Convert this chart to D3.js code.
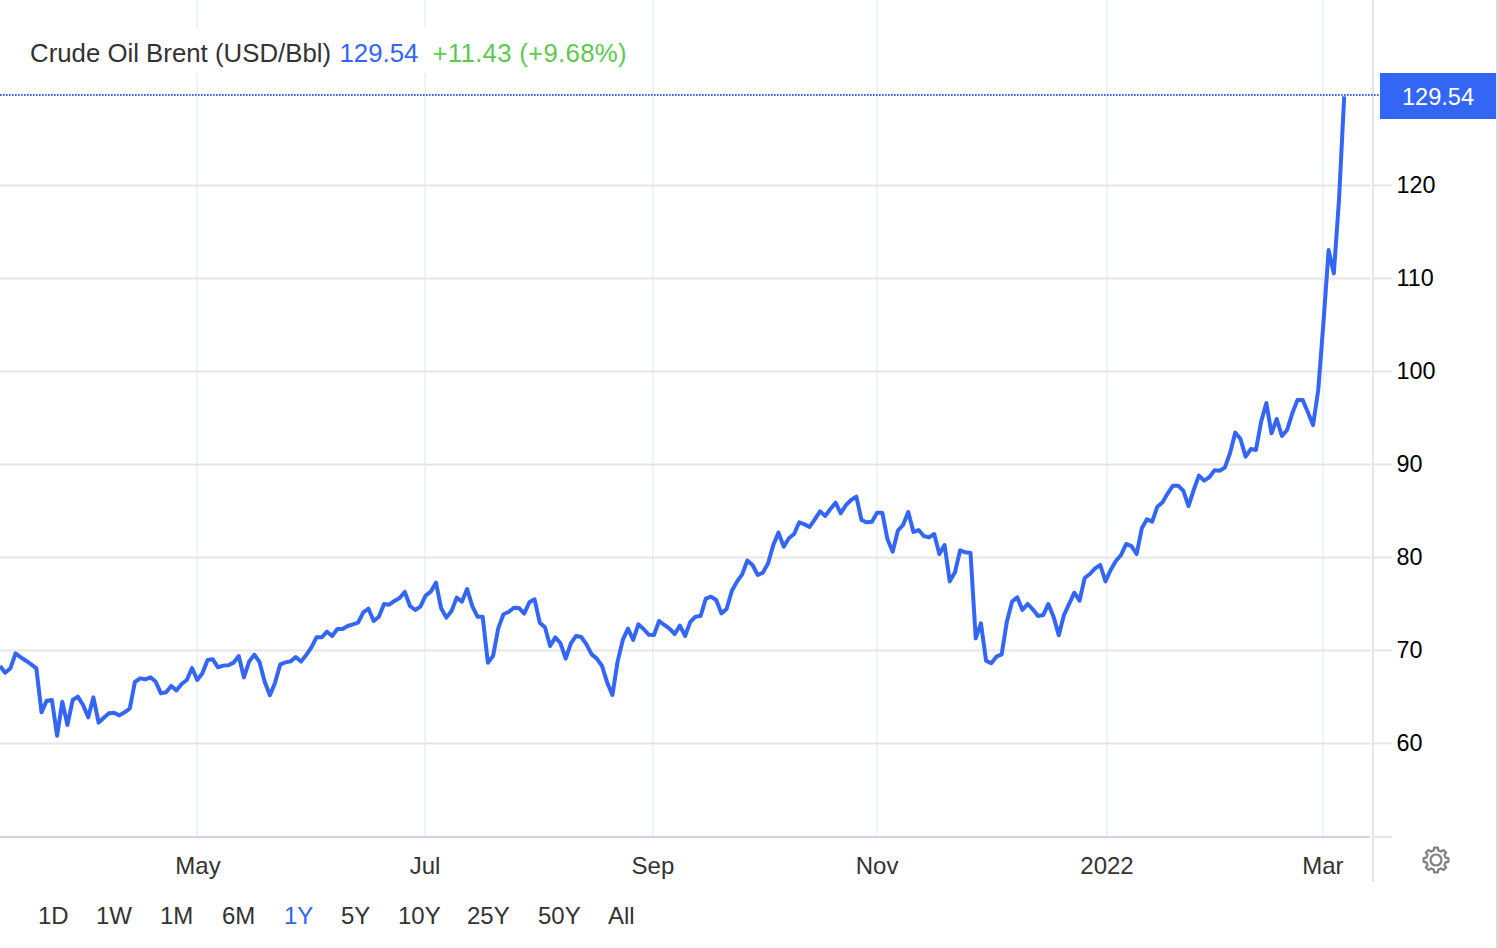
<!DOCTYPE html>
<html><head><meta charset="utf-8">
<style>html,body{margin:0;padding:0;background:#fff;overflow:hidden}text{font-family:"Liberation Sans",Arial,sans-serif}</style>
<script src="https://cdn.jsdelivr.net/npm/d3@7"></script></head>
<body><svg id="c" width="1498" height="948"></svg>
<script>
// Daily close, USD/Bbl (oldest first)
const prices = [
68.28,67.56,68.03,69.64,69.21,68.85,68.46,68.03,63.30,64.55,64.62,60.79,64.44,61.94,64.62,64.98,64.09,62.76,64.91,62.19,
62.72,63.19,63.26,62.97,63.30,63.69,66.56,66.95,66.85,67.06,66.59,65.34,65.45,66.13,65.66,66.34,66.77,68.06,66.77,67.49,
68.92,69.00,68.14,68.32,68.35,68.64,69.35,67.06,68.75,69.50,68.71,66.59,65.13,66.49,68.46,68.67,68.78,69.25,68.75,69.46,
70.29,71.36,71.36,71.97,71.51,72.26,72.26,72.58,72.76,72.94,74.05,74.44,73.12,73.58,74.95,74.87,75.27,75.59,76.24,74.73,
74.30,74.66,75.84,76.27,77.24,74.48,73.48,74.19,75.63,75.20,76.56,74.73,73.58,73.58,68.64,69.35,72.33,73.84,74.09,74.55,
74.52,73.91,75.13,75.45,72.94,72.44,70.43,71.36,70.72,69.07,70.72,71.51,71.40,70.61,69.53,69.07,68.28,66.49,65.16,68.75,
71.08,72.29,71.08,72.76,72.26,71.65,71.61,73.12,72.69,72.29,71.72,72.62,71.51,73.01,73.58,73.66,75.52,75.73,75.38,73.94,
74.41,76.34,77.35,78.14,79.61,79.14,78.06,78.32,79.32,81.29,82.62,81.11,82.01,82.47,83.73,83.51,83.23,84.05,84.91,84.41,
85.16,85.84,84.70,85.59,86.13,86.49,83.98,83.73,83.80,84.77,84.77,81.90,80.57,82.83,83.44,84.84,82.69,82.90,82.26,82.11,
82.47,80.32,81.29,77.38,78.35,80.72,80.50,80.43,71.25,72.87,68.85,68.57,69.28,69.53,73.05,75.20,75.66,74.30,74.95,74.37,
73.66,73.76,74.95,73.58,71.58,73.76,74.95,76.16,75.30,77.74,78.17,78.78,79.14,77.38,78.60,79.57,80.22,81.40,81.18,80.32,
83.08,84.05,83.80,85.41,85.88,86.85,87.67,87.67,87.13,85.48,87.20,88.75,88.21,88.57,89.32,89.28,89.61,91.15,93.37,92.72,
90.79,91.61,91.51,94.55,96.56,93.30,94.84,93.01,93.66,95.45,96.88,96.88,95.56,94.19,97.96,105.2,113.0,110.5,118.4,129.54
];
const yTicks = [60,70,80,90,100,110,120];
const xTickLabels = ["May","Jul","Sep","Nov","2022","Mar"];
const xTickIndex = [37.96,81.9,125.8,169,213.3,254.9];
const ranges = ["1D","1W","1M","6M","1Y","5Y","10Y","25Y","50Y","All"];
const rangeX = [38,96,160,222,284,341,398,467,538,608];
const activeRange = "1Y";
const titleName = "Crude Oil Brent (USD/Bbl)";
const lastLabel = "129.54";
const changeLabel = "+11.43 (+9.68%)";

const BLUE="#3366f5", GRID="#e6e6e6", VGRID="#f0f3f6";
const svg=d3.select("#c");
const x=d3.scaleLinear().domain([0,prices.length-1]).range([0,1344.2]);
const y=d3.scaleLinear().domain([60,120]).range([743,185]);

// vertical grid
svg.append("g").selectAll("line").data(xTickIndex).join("line")
 .attr("x1",d=>x(d)).attr("x2",d=>x(d)).attr("y1",0).attr("y2",836)
 .attr("stroke",VGRID).attr("stroke-width",2);
// horizontal grid + axis ticks
svg.append("g").selectAll("line").data(yTicks).join("line")
 .attr("x1",0).attr("x2",1371).attr("y1",d=>y(d)+0.4).attr("y2",d=>y(d)+0.4)
 .attr("stroke",GRID).attr("stroke-width",2);
svg.append("g").selectAll("line").data(yTicks.concat([50])).join("line")
 .attr("x1",1374).attr("x2",1392).attr("y1",d=>d===50?837:y(d)+0.4).attr("y2",d=>d===50?837:y(d)+0.4)
 .attr("stroke",GRID).attr("stroke-width",2);
// right axis line & x axis line
svg.append("line").attr("x1",1373).attr("x2",1373).attr("y1",0).attr("y2",882).attr("stroke",GRID).attr("stroke-width",2);
svg.append("line").attr("x1",0).attr("x2",1370).attr("y1",837).attr("y2",837).attr("stroke","#ccd6eb").attr("stroke-width",2);
svg.append("rect").attr("x",1496).attr("y",0).attr("width",2).attr("height",948).attr("fill","#dcdcdc");
// title backing
svg.append("rect").attr("x",0).attr("y",28).attr("width",640).attr("height",45).attr("fill","#fff");

// last price dotted line
const lastY=y(prices[prices.length-1])-1.3;
svg.append("line").attr("x1",0).attr("x2",1380).attr("y1",lastY).attr("y2",lastY)
 .attr("stroke",BLUE).attr("stroke-width",2).attr("stroke-dasharray","1.6 1.4");

// series
svg.append("path").attr("d",d3.line().x((d,i)=>x(i)).y(d=>y(d))(prices))
 .attr("fill","none").attr("stroke",BLUE).attr("stroke-width",4).attr("stroke-linejoin","round");

// y labels
svg.append("g").selectAll("text").data(yTicks).join("text")
 .attr("x",1396.5).attr("y",d=>y(d)+8).attr("font-size",23.4).attr("fill","#000").text(d=>d);
// last value box
svg.append("rect").attr("x",1380).attr("y",73).attr("width",116).attr("height",46).attr("fill",BLUE);
svg.append("text").attr("x",1438).attr("y",105).attr("text-anchor","middle").attr("font-size",23.6).attr("fill","#fff").text(lastLabel);
// x labels
svg.append("g").selectAll("text").data(xTickLabels).join("text")
 .attr("x",(d,i)=>x(xTickIndex[i])+(d==="May"?1:0)).attr("y",874).attr("text-anchor","middle").attr("font-size",24).attr("fill","#333").text(d=>d);
// range buttons
svg.append("g").selectAll("text").data(ranges).join("text")
 .attr("x",(d,i)=>rangeX[i]).attr("y",924).attr("font-size",24).attr("fill",d=>d===activeRange?BLUE:"#333").text(d=>d);
// title
const t=svg.append("text").attr("x",30).attr("y",62).attr("font-size",25.8);
t.append("tspan").attr("fill","#333").text(titleName);
t.append("tspan").attr("x",339.5).attr("fill",BLUE).text(lastLabel);
t.append("tspan").attr("x",432.5).attr("fill","#5ec94f").attr("letter-spacing",0.27).text(changeLabel);

// settings gear
const teeth=8, cx=1436, cy=860, rO=12.5, rI=9.8;
const gearPts=[];
for(let k=0;k<teeth;k++){const a=k*2*Math.PI/teeth, w=Math.PI/teeth;
 [[-.62,rI],[-.38,rO],[.38,rO],[.62,rI]].forEach(([f,r])=>{const b=a+f*w;gearPts.push([cx+r*Math.cos(b),cy+r*Math.sin(b)]);});}
svg.append("path").attr("d",d3.line().curve(d3.curveLinearClosed)(gearPts)).attr("fill","none").attr("stroke","#808080").attr("stroke-width",2.2).attr("stroke-linejoin","round");
svg.append("circle").attr("cx",cx).attr("cy",cy).attr("r",5.5).attr("fill","none").attr("stroke","#808080").attr("stroke-width",2.2);
</script></body></html>
